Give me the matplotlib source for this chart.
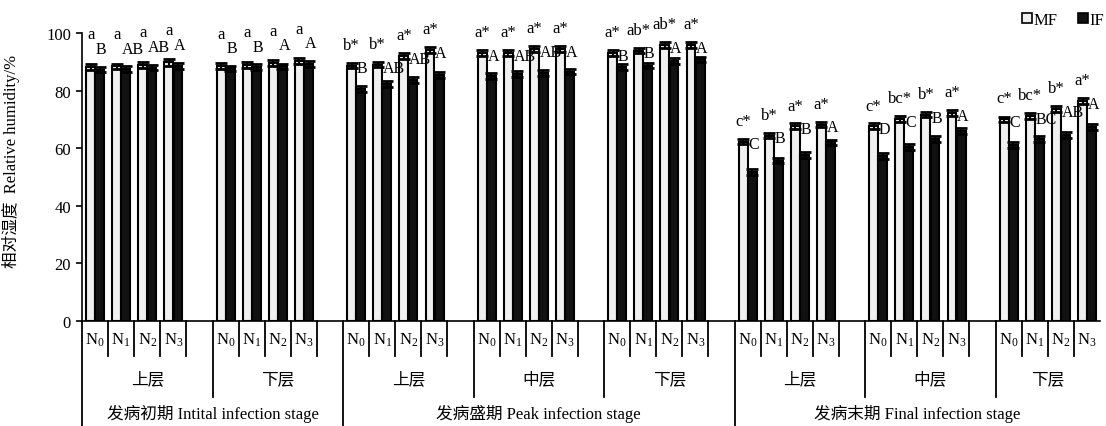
#! /usr/bin/env python
# -*- coding: utf-8 -*-

import matplotlib
matplotlib.use('Agg')
import matplotlib.pyplot as plt
from matplotlib.patches import Patch

plt.rcParams['font.family'] = ['Liberation Serif', 'Noto Sans CJK SC']
plt.rcParams['mathtext.fontset'] = 'custom'
plt.rcParams['mathtext.rm'] = 'Liberation Serif'
plt.rcParams['mathtext.it'] = 'Liberation Serif:italic'

stages = ['发病初期 Intital infection stage',
          '发病盛期 Peak infection stage',
          '发病末期 Final infection stage']
stage_layers = [['上层', '下层'],
                ['上层', '中层', '下层'],
                ['上层', '中层', '下层']]
treatments = ['0', '1', '2', '3']

# relative humidity (%), 4 treatments per layer, layers in stage order
mf = [88.3, 88.4, 89.0, 89.8,
      88.6, 89.0, 89.5, 90.3,
      88.7, 89.0, 92.1, 94.1,
      93.1, 93.1, 94.4, 94.4,
      93.1, 93.9, 95.9, 95.9,
      62.3, 64.4, 67.6, 68.2,
      67.6, 70.1, 71.6, 72.2,
      70.1, 71.3, 73.6, 76.5]
inf = [87.3, 87.5, 88.0, 88.6,
       87.7, 88.1, 88.4, 89.2,
       80.6, 82.3, 83.7, 85.5,
       85.2, 85.8, 86.2, 86.6,
       88.1, 88.7, 90.2, 90.8,
       51.8, 55.7, 57.6, 62.0,
       57.4, 60.3, 63.2, 65.9,
       61.2, 63.2, 64.7, 67.3]
mf_err = [1.0, 0.9, 1.0, 1.1,
          1.0, 1.0, 1.0, 1.1,
          0.9, 0.9, 1.0, 1.0,
          1.0, 1.0, 1.0, 1.0,
          1.0, 1.0, 1.0, 1.0,
          0.9, 0.9, 1.0, 1.0,
          1.0, 1.0, 0.9, 0.9,
          0.9, 1.0, 1.0, 1.0]
inf_err = [1.0, 1.0, 1.0, 1.0,
           1.0, 1.0, 1.0, 1.0,
           1.0, 1.0, 1.0, 1.0,
           1.0, 1.0, 1.0, 1.0,
           1.0, 1.0, 1.0, 1.0,
           1.0, 1.0, 1.0, 1.0,
           1.0, 1.0, 1.0, 1.0,
           1.0, 1.0, 1.0, 1.0]
mf_letters = ['a', 'a', 'a', 'a',
              'a', 'a', 'a', 'a',
              'b*', 'b*', 'a*', 'a*',
              'a*', 'a*', 'a*', 'a*',
              'a*', 'ab*', 'ab*', 'a*',
              'c*', 'b*', 'a*', 'a*',
              'c*', 'bc*', 'b*', 'a*',
              'c*', 'bc*', 'b*', 'a*']
inf_letters = ['B', 'AB', 'AB', 'A',
               'B', 'B', 'A', 'A',
               'B', 'AB', 'AB', 'A',
               'A', 'AB', 'AB', 'A',
               'B', 'B', 'A', 'A',
               'C', 'B', 'B', 'A',
               'D', 'C', 'B', 'A',
               'C', 'BC', 'AB', 'A']


def main():
    fig = plt.figure(figsize=(11.06, 4.27), dpi=100)
    ax = fig.add_axes([82 / 1106, 105 / 427, 1018 / 1106, 288 / 427])

    ''' slot positions: each layer uses 5 slots (4 treatments + 1 blank) '''
    nt = len(treatments)
    x0 = []
    stage_of = []
    g = 0
    for s, layers in enumerate(stage_layers):
        for _ in layers:
            for i in range(nt):
                x0.append(5 * g + i)
                stage_of.append(s)
            g += 1
    n_groups = g
    x_end = 5 * (n_groups - 1) + nt

    x_mf = [x + 0.33 for x in x0]
    x_if = [x + 0.68 for x in x0]
    w = 0.34

    ekw = dict(elinewidth=1.5, capsize=4, capthick=2, ecolor='k')
    ax.bar(x_mf, mf, width=w, color='#f0f0f0', edgecolor='k', linewidth=1.5,
           yerr=mf_err, error_kw=ekw, label='MF', zorder=2)
    ax.bar(x_if, inf, width=w, color='#111111', edgecolor='k', linewidth=1.5,
           yerr=inf_err, error_kw=ekw, label='IF', zorder=2)

    ''' significance letters '''
    off_low = [11.2, 7.2, 7.2]
    off_up = [6.2, -1.0, -1.0]
    for k in range(len(mf)):
        s = stage_of[k]
        ax.text(x_mf[k], mf[k] + off_low[s], mf_letters[k], ha='center', va='center',
                fontsize=12, zorder=3)
        ax.text(x_if[k] - 0.15, mf[k] + off_up[s], inf_letters[k], ha='left', va='center',
                fontsize=11.5, zorder=3)

    ax.set_xlim(0, x_end)
    ax.set_ylim(0, 100)
    ax.set_yticks([0, 20, 40, 60, 80, 100])
    ax.tick_params(axis='y', direction='out', length=4, width=1.2, labelsize=12, pad=4)
    ax.set_xticks([])
    for sp in ['top', 'right']:
        ax.spines[sp].set_visible(False)
    ax.spines['left'].set_linewidth(1.2)
    ax.spines['bottom'].set_linewidth(1.2)

    ax.set_ylabel('相对湿度  Relative humidity/%', fontsize=12)
    ax.yaxis.set_label_coords(-0.061, 0.557)

    ''' multi-level category axis '''
    tr = ax.get_xaxis_transform()
    lkw = dict(transform=tr, clip_on=False, color='k', lw=1.3)
    g = 0
    for s, layers in enumerate(stage_layers):
        stage_start = 5 * g
        for j, lay in enumerate(layers):
            gx = 5 * g
            for i in range(nt):
                ax.text(gx + i + 0.5, -0.0625, r'$\mathrm{N_{%s}}$' % treatments[i],
                        transform=tr, ha='center', va='center', fontsize=12)
                if gx + i + 1 < x_end:
                    ax.plot([gx + i + 1, gx + i + 1], [0, -0.1215], **lkw)
            gend = min(gx + 5, x_end)
            ax.text((gx + gend) / 2, -0.203, lay, transform=tr, ha='center', va='center',
                    fontsize=12)
            if j > 0:
                ax.plot([gx, gx], [0, -0.264], **lkw)
            g += 1
        stage_end = min(5 * g, x_end)
        ax.plot([stage_start, stage_start], [0, -0.365], **lkw)
        ax.text((stage_start + stage_end) / 2, -0.318, stages[s], transform=tr,
                ha='center', va='center', fontsize=12)

    handles = [Patch(facecolor='#f0f0f0', edgecolor='k', linewidth=1.2, label='MF'),
               Patch(facecolor='#111111', edgecolor='k', linewidth=1.2, label='IF')]
    fig.legend(handles=handles, loc='upper right', bbox_to_anchor=(1.012, 1.005), ncol=2,
               frameon=False, fontsize=12, handlelength=0.6, handleheight=0.6,
               handletextpad=0.1, columnspacing=1.2)

    plt.savefig('out.png', dpi=100)
    return 0


if __name__ == '__main__':
    main()
